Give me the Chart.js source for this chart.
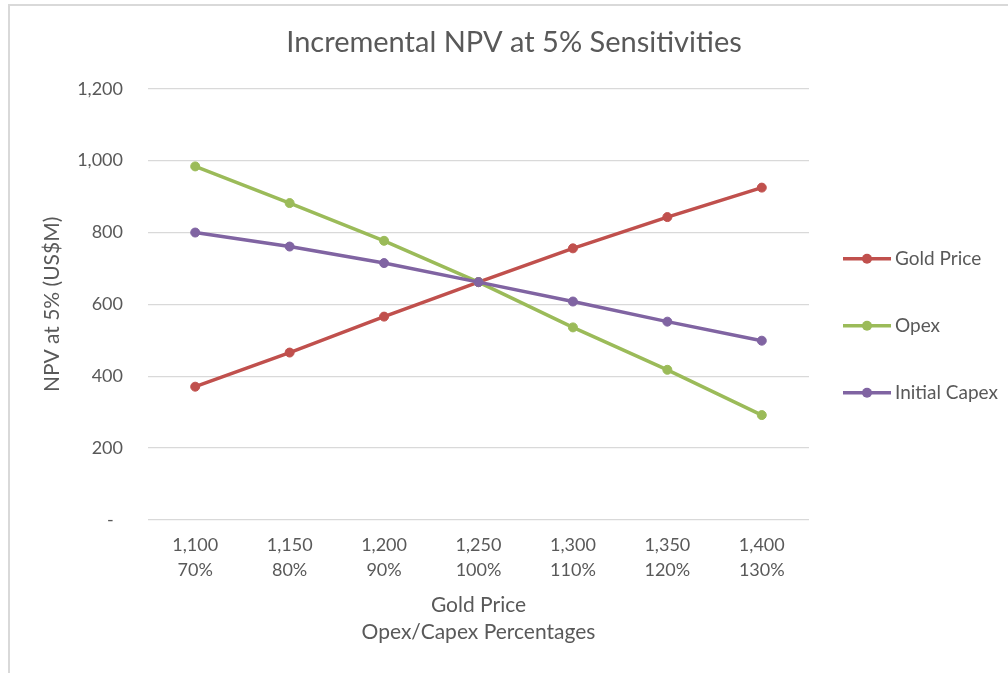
<!DOCTYPE html>
<html>
<head>
<meta charset="utf-8">
<script src="https://cdn.jsdelivr.net/npm/chart.js@4.4.1/dist/chart.umd.min.js"></script>
<style>
  html, body { margin: 0; padding: 0; background: #fff; overflow: hidden; }
  #wrap { position: relative; width: 1008px; height: 673px; }
  #frame { position: absolute; left: 8px; top: 4px; width: 1100px; height: 800px;
           border-left: 2px solid #d9d9d9; border-top: 2px solid #d9d9d9; pointer-events: none; }
</style>
</head>
<body>
<div id="wrap">
  <canvas id="myChart" width="1008" height="673"></canvas>
  <div id="frame"></div>
</div>
<script>
// categories (two-line labels)
const goldPrices = ['1,100', '1,150', '1,200', '1,250', '1,300', '1,350', '1,400'];
const pctLabels = ['70%', '80%', '90%', '100%', '110%', '120%', '130%'];

// series values, NPV at 5% (US$M)
const goldPriceNpv = [371, 466, 566, 662, 756, 843, 925];
const opexNpv = [984, 882, 777, 662, 536, 418, 292];
const capexNpv = [800, 761, 715, 662, 608, 552, 499];

const seriesNames = ['Gold Price', 'Opex', 'Initial Capex'];
const seriesColors = ['#C0504D', '#9BBB59', '#8064A2'];

// y axis range
const yMin = 0;
const yMax = 1200;
const yStep = 200;

const textColor = '#595959';
const fontFamily = 'Lato, "Open Sans", sans-serif';

const labels = goldPrices.map((g, i) => [g, pctLabels[i]]);
const values = [goldPriceNpv, opexNpv, capexNpv];

const datasets = values.map((v, i) => ({
    label: seriesNames[i],
    data: v,
    borderColor: seriesColors[i],
    backgroundColor: seriesColors[i],
    pointBackgroundColor: seriesColors[i],
    pointBorderColor: seriesColors[i],
    borderWidth: 3.5,
    pointRadius: 4.5,
    pointBorderWidth: 1,
    tension: 0,
    order: 3 - i
}));

// excel style legend: line with dot in the middle, spread out on the right
const sideLegend = {
    id: 'sideLegend',
    afterDraw(chart) {
        const c = chart.ctx;
        const area = chart.chartArea;
        const x0 = area.right + 34;
        const y0 = area.top + 170;
        const gap = 67;
        c.save();
        c.font = '19px ' + fontFamily;
        c.textBaseline = 'middle';
        c.textAlign = 'left';
        chart.data.datasets.forEach((ds, i) => {
            const y = y0 + i * gap;
            c.strokeStyle = ds.borderColor;
            c.lineWidth = 3.5;
            c.beginPath();
            c.moveTo(x0, y);
            c.lineTo(x0 + 48, y);
            c.stroke();
            c.fillStyle = ds.borderColor;
            c.beginPath();
            c.arc(x0 + 24, y, 5, 0, Math.PI * 2);
            c.fill();
            c.fillStyle = textColor;
            c.fillText(ds.label, x0 + 52, y);
        });
        c.restore();
    }
};

const ctx = document.getElementById('myChart').getContext('2d');

const myChart = new Chart(ctx, {
    type: 'line',
    data: { labels: labels, datasets: datasets },
    plugins: [sideLegend],
    options: {
        responsive: false,
        animation: false,
        layout: { padding: { left: 20, right: 0, top: 10, bottom: 0 } },
        plugins: {
            legend: { display: false },
            tooltip: { enabled: false },
            title: {
                display: true,
                text: 'Incremental NPV at 5% Sensitivities',
                color: textColor,
                font: { family: fontFamily, size: 29, weight: 'normal', lineHeight: 1.2 },
                padding: { top: 15, bottom: 29 }
            }
        },
        scales: {
            x: {
                offset: true,
                grid: { display: false, drawTicks: false },
                border: { display: false },
                ticks: {
                    color: textColor,
                    padding: 13,
                    maxRotation: 0,
                    font: { family: fontFamily, size: 18, lineHeight: 1.39 }
                },
                title: {
                    display: true,
                    text: ['Gold Price', 'Opex/Capex Percentages'],
                    color: textColor,
                    font: { family: fontFamily, size: 21, lineHeight: 1.29 },
                    padding: { top: 4, bottom: 27 }
                },
                afterFit(s) { s.height = 153; }
            },
            y: {
                min: yMin,
                max: yMax,
                grid: { color: '#d9d9d9', lineWidth: 1.3, drawTicks: false },
                border: { display: false },
                ticks: {
                    stepSize: yStep,
                    color: textColor,
                    padding: 25,
                    font: { family: fontFamily, size: 18 },
                    callback: (v) => v === 0 ? '-  ' : v.toLocaleString('en-US')
                },
                title: {
                    display: true,
                    text: 'NPV at 5% (US$M)',
                    color: textColor,
                    font: { family: fontFamily, size: 21, lineHeight: 1.2 },
                    padding: { top: 20, bottom: 0 }
                },
                afterFit(s) { s.width = 128; }
            },
            // empty right axis, only keeps room for the legend
            yRight: {
                position: 'right',
                min: yMin,
                max: yMax,
                grid: { display: false, drawTicks: false },
                border: { display: false },
                ticks: { display: false },
                afterFit(s) { s.width = 199; }
            }
        }
    }
});
</script>
</body>
</html>
